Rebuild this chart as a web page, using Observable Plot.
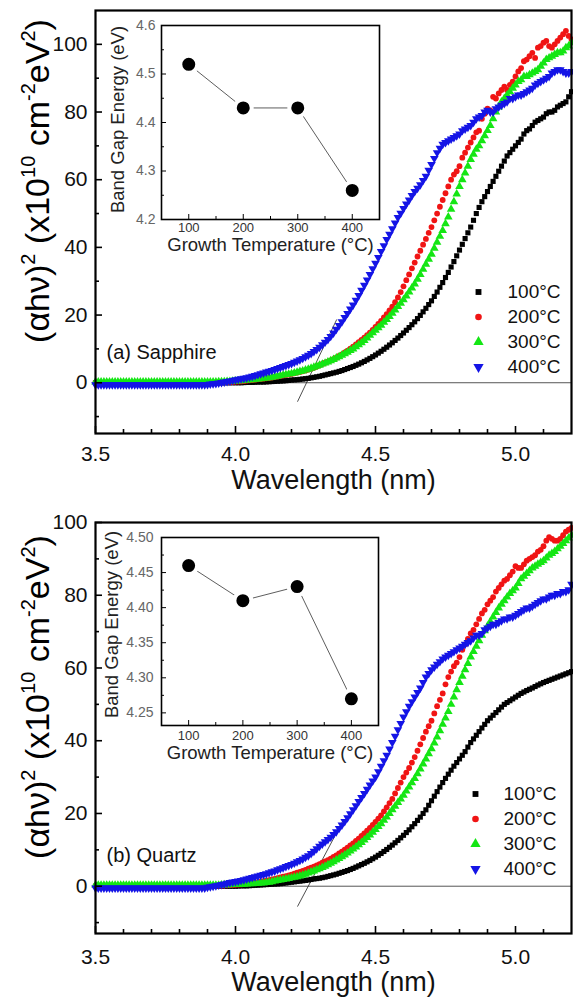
<!DOCTYPE html>
<html><head><meta charset="utf-8">
<script src="https://cdn.jsdelivr.net/npm/d3@7"></script>
<script src="https://cdn.jsdelivr.net/npm/@observablehq/plot@0.6"></script>
<style>
body{margin:0;background:#fff;}
.panel{position:relative;width:573px;overflow:hidden;}
.panel > svg{position:absolute;left:0;top:0;overflow:visible;}
</style></head><body>
<div id="pa" class="panel" style="height:500px"></div>
<div id="pb" class="panel" style="height:498px"></div>
<script>
// ---------- data ----------
// wavelength grid of the measured spectra (3.50 ... 5.20, step 0.01)
const wavelength = d3.range(171).map(i => +(3.5 + 0.01 * i).toFixed(2));
const temps = ["100°C", "200°C", "300°C", "400°C"];

const sapphire100 = [
0,0,0,0,0,0,0,0,0,0,
0,0,0,0,0,0,0,0,0,0,
0,0,0,0,0,0,0,0,0,0,
0,0,0,0,0,0,0,0,0,0,
0,0,0,0,0,0,0,0,0,0,
0.0,0.0,0.0,0.05,0.1,0.1,0.1,0.15,0.2,0.2,
0.2,0.25,0.3,0.35,0.4,0.45,0.5,0.55,0.6,0.7,
0.8,0.85,0.9,1.0,1.1,1.2,1.3,1.45,1.6,1.75,
1.9,2.1,2.3,2.5,2.7,2.9,3.1,3.35,3.6,3.9,
4.2,4.5,4.8,5.15,5.5,5.9,6.3,6.75,7.2,7.7,
8.2,8.75,9.3,9.9,10.5,11.15,11.8,12.5,13.2,13.95,
14.7,15.5,16.3,17.15,18.0,18.95,19.9,20.95,22.0,23.1,
24.2,25.5,26.8,28.2,29.6,31.1,32.6,34.2,35.8,37.5,
39.2,40.9,42.6,44.3,46.0,48.0,50.0,51.8,53.5,55.0,
56.5,58.0,59.5,61.0,62.5,64.0,65.5,67.0,68.0,69.0,
70.0,71.0,72.0,73.5,74.5,75.0,76.0,77.0,77.5,78.0,
78.5,79.5,80.0,80.0,80.5,81.5,82.0,82.5,83.0,84.5,
86.0];
const sapphire200 = [
0,0,0,0,0,0,0,0,0,0,
0,0,0,0,0,0,0,0,0,0,
0,0,0,0,0,0,0,0,0,0,
0,0,0,0,0,0,0,0,0,0,
0,0.05,0.1,0.1,0.1,0.15,0.2,0.2,0.2,0.25,
0.3,0.35,0.4,0.5,0.6,0.7,0.8,0.9,1.0,1.1,
1.2,1.3,1.4,1.55,1.7,1.85,2.0,2.15,2.3,2.45,
2.6,2.8,3.0,3.2,3.4,3.65,3.9,4.15,4.4,4.8,
5.2,5.55,5.9,6.25,6.6,7.0,7.4,7.9,8.4,8.95,
9.5,10.1,10.7,11.35,12.0,12.65,13.3,14.05,14.8,15.65,
16.5,17.4,18.3,19.3,20.3,21.4,22.5,23.8,25.2,26.8,
28.5,30.3,32.0,33.8,35.5,37.3,39.0,40.8,42.5,44.3,
46.0,48.0,50.0,52.0,54.0,56.0,58.0,60.0,61.5,62.5,
64.0,66.5,68.0,69.5,71.0,72.5,74.0,74.5,78.0,79.5,
81.0,80.5,84.5,84.0,85.5,86.5,87.5,86.5,88.0,89.0,
90.5,92.0,93.0,95.0,95.5,96.5,97.5,96.0,99.0,99.5,
100.5,101.0,99.5,99.0,100.0,101.0,102.0,103.0,104.0,102.5,
101.5];
const sapphire300 = [
0.2,0.2,0.2,0.2,0.2,0.2,0.2,0.2,0.2,0.2,
0.2,0.2,0.2,0.2,0.2,0.2,0.2,0.2,0.2,0.2,
0.2,0.2,0.2,0.2,0.2,0.2,0.2,0.2,0.2,0.2,
0.2,0.2,0.2,0.2,0.2,0.2,0.2,0.2,0.2,0.2,
0.2,0.2,0.2,0.25,0.3,0.3,0.3,0.35,0.4,0.45,
0.5,0.55,0.6,0.7,0.8,0.85,0.9,1.0,1.1,1.2,
1.3,1.4,1.5,1.65,1.8,1.95,2.1,2.25,2.4,2.55,
2.7,2.9,3.1,3.3,3.5,3.75,4.0,4.3,4.6,4.9,
5.2,5.5,5.8,6.15,6.5,6.9,7.3,7.7,8.1,8.55,
9.0,9.5,10.0,10.6,11.2,11.85,12.5,13.25,14.0,14.75,
15.5,16.25,17.0,17.85,18.7,19.6,20.5,21.5,22.5,23.5,
24.5,25.65,26.8,28.0,29.2,30.6,32.0,33.5,35.0,36.5,
38.0,39.75,41.5,43.25,45.0,47.0,49.0,51.25,53.5,55.75,
58.0,60.0,62.0,64.0,66.0,67.5,69.0,70.0,71.5,73.0,
74.5,76.0,78.0,80.0,81.5,83.0,84.0,85.0,86.0,87.0,
88.0,89.0,89.5,90.5,90.5,91.0,91.5,92.0,92.5,93.5,
94.5,95.5,96.0,96.5,97.0,97.5,97.5,98.0,99.0,99.5,
100.5];
const sapphire400 = [
-0.6,-0.6,-0.6,-0.6,-0.6,-0.6,-0.6,-0.6,-0.6,-0.6,
-0.6,-0.6,-0.6,-0.6,-0.6,-0.6,-0.6,-0.6,-0.6,-0.6,
-0.6,-0.6,-0.6,-0.6,-0.6,-0.6,-0.6,-0.6,-0.6,-0.6,
-0.6,-0.6,-0.6,-0.6,-0.6,-0.6,-0.6,-0.6,-0.6,-0.6,
-0.5,-0.4,-0.3,-0.2,-0.1,0.05,0.2,0.35,0.5,0.7,
0.9,1.05,1.2,1.35,1.5,1.7,1.9,2.15,2.4,2.65,
2.9,3.15,3.4,3.65,3.9,4.2,4.5,4.8,5.1,5.4,
5.7,6.05,6.4,6.8,7.2,7.65,8.1,8.65,9.2,9.8,
10.5,11.2,12.0,12.8,13.7,14.7,15.8,16.9,18.0,19.3,
20.5,21.8,23.0,24.4,25.8,27.3,28.8,30.4,32.0,33.7,
35.3,37.0,38.8,40.5,42.3,43.9,45.5,47.2,48.8,50.1,
51.5,52.8,54.0,55.3,56.5,57.5,58.5,59.8,61.0,62.8,
64.5,66.3,68.0,69.3,70.5,71.0,71.5,72.0,72.5,73.0,
73.5,74.5,75.0,75.5,76.0,77.0,78.0,78.5,79.0,80.0,
80.5,80.0,80.0,81.0,81.5,82.0,82.5,83.0,84.0,84.0,
84.5,85.0,85.0,85.5,86.0,86.5,87.0,88.0,88.5,89.0,
89.5,90.0,90.5,91.5,92.0,92.5,92.5,92.0,91.5,91.5,
92.0];

const quartz100 = [
0,0,0,0,0,0,0,0,0,0,
0,0,0,0,0,0,0,0,0,0,
0,0,0,0,0,0,0,0,0,0,
0,0,0,0,0,0,0,0,0,0,
0,0,0,0,0,0,0,0,0,0,
0,0.05,0.1,0.1,0.1,0.15,0.2,0.25,0.3,0.35,
0.4,0.45,0.5,0.55,0.6,0.65,0.7,0.8,0.9,1.0,
1.1,1.2,1.3,1.4,1.5,1.6,1.7,1.85,2.0,2.1,
2.2,2.35,2.5,2.7,2.9,3.1,3.3,3.55,3.8,4.05,
4.3,4.6,4.9,5.25,5.6,5.95,6.3,6.7,7.1,7.55,
8.0,8.5,9.0,9.55,10.1,10.7,11.3,11.95,12.6,13.3,
14.0,14.75,15.5,16.35,17.2,18.1,19.0,20.0,21.0,22.25,
23.5,24.75,26.0,27.25,28.5,29.65,30.8,31.9,33.0,34.0,
35.0,36.0,37.0,38.25,39.5,40.5,41.5,42.5,43.5,44.5,
45.5,46.25,47.0,47.75,48.5,49.25,50.0,50.5,51.0,51.5,
52.0,52.5,53.0,53.4,53.8,54.15,54.5,54.9,55.3,55.65,
56.0,56.3,56.6,56.9,57.2,57.5,57.8,58.1,58.4,58.7,
59.0];
const quartz200 = [
0,0,0,0,0,0,0,0,0,0,
0,0,0,0,0,0,0,0,0,0,
0,0,0,0,0,0,0,0,0,0,
0,0,0,0,0,0,0,0,0,0,
0,0.05,0.1,0.1,0.1,0.15,0.2,0.25,0.3,0.35,
0.4,0.45,0.5,0.6,0.7,0.8,0.9,1.0,1.1,1.25,
1.4,1.55,1.7,1.85,2.0,2.2,2.4,2.6,2.8,3.0,
3.2,3.45,3.7,3.95,4.2,4.5,4.8,5.1,5.4,5.75,
6.1,6.45,6.8,7.2,7.6,8.05,8.5,9.0,9.5,10.05,
10.6,11.2,11.8,12.45,13.1,13.8,14.5,15.25,16.0,16.85,
17.7,18.6,19.5,20.6,21.7,22.85,24.0,25.5,27.0,28.5,
30.0,31.25,32.5,34.0,35.5,37.25,39.0,40.75,42.5,44.0,
45.5,47.5,49.5,51.25,53.0,55.5,57.5,59.0,60.5,61.5,
63.0,65.0,66.5,68.0,69.5,70.5,72.0,73.5,75.0,76.0,
77.5,78.5,79.5,81.0,82.0,83.0,84.0,84.5,85.5,86.5,
88.0,87.5,87.5,88.5,89.5,90.0,90.5,91.0,92.0,92.5,
93.5,95.0,96.0,95.5,95.0,95.0,95.5,96.5,97.5,98.0,
98.5];
const quartz300 = [
0.3,0.3,0.3,0.3,0.3,0.3,0.3,0.3,0.3,0.3,
0.3,0.3,0.3,0.3,0.3,0.3,0.3,0.3,0.3,0.3,
0.3,0.3,0.3,0.3,0.3,0.3,0.3,0.3,0.3,0.3,
0.3,0.3,0.3,0.3,0.3,0.3,0.3,0.3,0.3,0.3,
0.3,0.3,0.3,0.3,0.3,0.35,0.4,0.4,0.4,0.45,
0.5,0.5,0.5,0.55,0.6,0.65,0.7,0.75,0.8,0.85,
0.9,1.0,1.1,1.25,1.4,1.55,1.7,1.85,2.0,2.15,
2.3,2.45,2.6,2.8,3.0,3.3,3.6,3.9,4.2,4.5,
4.8,5.15,5.5,5.9,6.3,6.75,7.2,7.65,8.1,8.6,
9.1,9.65,10.2,10.8,11.4,12.05,12.7,13.4,14.1,14.85,
15.6,16.4,17.2,18.1,19.0,20.0,21.0,22.0,23.0,24.0,
25.0,26.15,27.3,28.45,29.6,30.9,32.2,33.6,35.0,36.4,
37.8,39.4,41.0,42.75,44.5,46.25,48.0,50.0,52.0,54.0,
56.0,57.75,59.5,61.25,63.0,64.5,66.0,67.5,69.0,70.25,
71.5,72.75,74.0,75.25,76.5,77.5,78.5,79.5,80.5,81.25,
82.0,83.25,84.5,85.25,86.0,86.75,87.5,88.0,88.5,89.0,
89.5,90.25,91.0,91.5,92.0,92.75,93.5,94.25,95.0,95.75,
96.5];
const quartz400 = [
-0.5,-0.5,-0.5,-0.5,-0.5,-0.5,-0.5,-0.5,-0.5,-0.5,
-0.5,-0.5,-0.5,-0.5,-0.5,-0.5,-0.5,-0.5,-0.5,-0.5,
-0.5,-0.5,-0.5,-0.5,-0.5,-0.5,-0.5,-0.5,-0.5,-0.5,
-0.5,-0.5,-0.5,-0.5,-0.5,-0.5,-0.5,-0.5,-0.5,-0.5,
-0.3,-0.15,0.0,0.15,0.3,0.45,0.6,0.8,1.0,1.15,
1.3,1.45,1.6,1.8,2.0,2.2,2.4,2.6,2.8,3.0,
3.2,3.45,3.7,3.95,4.2,4.5,4.8,5.1,5.4,5.7,
6.0,6.35,6.7,7.1,7.5,7.95,8.4,9.0,9.6,10.3,
11.0,11.6,12.2,12.85,13.5,14.25,15.0,15.9,16.8,17.8,
18.8,19.9,21.0,22.15,23.3,24.4,25.5,26.65,27.8,28.9,
30.0,31.5,33.0,34.5,36.0,37.75,39.5,41.25,43.0,44.75,
46.5,48.0,49.5,50.75,52.0,53.25,54.5,56.0,57.5,58.5,
59.5,60.25,61.0,61.75,62.5,63.0,63.5,64.0,64.5,65.0,
65.5,66.0,66.5,67.0,67.5,68.25,69.0,69.0,69.5,70.5,
71.0,71.5,72.0,72.0,72.5,73.0,73.5,73.5,74.0,74.0,
74.5,75.0,75.5,76.0,76.5,76.5,77.0,77.5,78.0,78.5,
79.0,79.0,79.5,80.0,80.0,80.5,80.5,81.0,81.0,81.5,
83.0];

// tangent (linear extrapolation) lines: endpoints
const tangentSapphire = {w: [4.222, 4.361], v: [-5.5, 18.6]};
const tangentQuartz = {w: [4.222, 4.383], v: [-5.5, 17.9]};

// inset: band gap energy vs growth temperature
const growthTemp = [100, 200, 300, 400];
const gapSapphire = [4.52, 4.43, 4.43, 4.26];
const gapQuartz = [4.46, 4.41, 4.43, 4.27];

// ticks
const xMajor = [3.5, 4.0, 4.5, 5.0];
const xMinor = [3.6, 3.7, 3.8, 3.9, 4.1, 4.2, 4.3, 4.4, 4.6, 4.7, 4.8, 4.9, 5.1];
const yMajor = [0, 20, 40, 60, 80, 100];
const yMinor = [-10, 10, 30, 50, 70, 90];
const insetX = [100, 200, 300, 400];
const insetXMinor = [150, 250, 350];
const insetYSapphire = [4.2, 4.3, 4.4, 4.5, 4.6];
const insetYSapphireMinor = [4.25, 4.35, 4.45, 4.55];
const insetYQuartz = [4.25, 4.30, 4.35, 4.40, 4.45, 4.50];
const insetYQuartzMinor = [4.275, 4.325, 4.375, 4.425, 4.475];

// ---------- style ----------
const FONT = '"Liberation Sans", Arial, sans-serif';
const COLORS = ["#000000", "#f01414", "#14e614", "#1414e6"];
const sqrt3 = Math.sqrt(3);
const triangleDown = {
  draw(context, size) {
    const y = -Math.sqrt(size / (sqrt3 * 3));
    context.moveTo(0, -y * 2);
    context.lineTo(-sqrt3 * y, y);
    context.lineTo(sqrt3 * y, y);
    context.closePath();
  }
};
const SYMBOLS = ["square", "circle", "triangle", triangleDown];

function yTitle(svg, x, y) {
  const t = d3.select(svg).append("text")
    .attr("transform", `translate(${x},${y}) rotate(-90)`)
    .attr("y", 11)
    .attr("text-anchor", "middle")
    .attr("font-family", FONT).attr("font-size", 34).attr("fill", "#000")
    .style("white-space", "pre");
  const parts = [["(\u03b1h\u03bd)", 0], ["2", 1], [" (x10", 0], ["10", 1], [" cm", 0], ["-2", 1], ["eV", 0], ["2", 1], [")", 0]];
  let prev = 0;
  for (const [s, sup] of parts) {
    const ts = t.append("tspan").text(s);
    if (sup) ts.attr("font-size", 20).attr("dy", prev ? 0 : -14);
    else ts.attr("dy", prev ? 14 : 0);
    prev = sup;
  }
}

function panel(el, cfg) {
  const W = 573, H = cfg.height;
  const plotW = W - 95 - 2, plotH = H - cfg.mt - cfg.mb;
  const seriesData = cfg.series.map(vals => wavelength.map((w, i) => ({w, v: vals[i]})).filter(d => d.v !== undefined));
  const tangent = cfg.tangent.w.map((w, i) => ({w, v: cfg.tangent.v[i]}));
  const main = Plot.plot({
    width: W, height: H,
    marginLeft: 95, marginRight: 2, marginTop: cfg.mt, marginBottom: cfg.mb,
    x: {domain: [3.5, 5.2]},
    y: {domain: cfg.ydom},
    style: {fontFamily: FONT, background: "transparent", color: "#111"},
    marks: [
      Plot.ruleY([0], {stroke: "#555", strokeWidth: 1}),
      Plot.line(tangent, {x: "w", y: "v", stroke: "#222", strokeWidth: 0.8}),
      ...seriesData.map((d, k) => Plot.dot(d, {x: "w", y: "v", symbol: SYMBOLS[k], fill: COLORS[k], stroke: "none", r: k >= 2 ? 3.2 : 2.9})),
      Plot.tickX(xMajor, {insetTop: plotH - 7, strokeWidth: 1.6, stroke: "#000"}),
      Plot.tickX(xMinor, {insetTop: plotH - 4, strokeWidth: 1.6, stroke: "#000"}),
      Plot.tickY(yMajor, {insetRight: plotW - 7, strokeWidth: 1.6, stroke: "#000"}),
      Plot.tickY(yMinor, {insetRight: plotW - 4, strokeWidth: 1.6, stroke: "#000"}),
      Plot.axisX(xMajor, {tickSize: 0, tickPadding: cfg.xpad, tickFormat: d3.format(".1f"), fontSize: 21, label: null}),
      Plot.axisY(yMajor, {tickSize: 0, tickPadding: 8, fontSize: 21, label: null}),
      Plot.frame({stroke: "#000", strokeWidth: 2.2}),
      Plot.text(["Wavelength (nm)"], {frameAnchor: "bottom", dy: cfg.titleDy, fontSize: 27, fill: "#111"}),
      Plot.text([cfg.name], {frameAnchor: "bottom-left", dx: 11, dy: cfg.nameDy, textAnchor: "start", fontSize: 20, fill: "#111"})
    ]
  });
  yTitle(main, 38, cfg.yTitleY);
  el.appendChild(main);

  // inset
  const ins = cfg.inset;
  const insData = growthTemp.map((t, i) => ({t, e: ins.gap[i]}));
  const iW = 285, iH = 250;
  const iPlotW = iW - 61 - ins.mr, iPlotH = iH - 15 - ins.mb;
  const inset = Plot.plot({
    width: iW, height: iH,
    marginLeft: 61, marginRight: ins.mr, marginTop: 15, marginBottom: ins.mb,
    x: {domain: [50, 450]},
    y: {domain: ins.ydom},
    style: {fontFamily: FONT, background: "transparent", color: "#222"},
    marks: [
      Plot.frame({fill: "white", stroke: "none"}),
      Plot.tickX(insetX, {insetTop: iPlotH - 5, strokeWidth: 1, stroke: "#000"}),
      Plot.tickX(insetXMinor, {insetTop: iPlotH - 3, strokeWidth: 1, stroke: "#000"}),
      Plot.tickY(ins.yt, {insetRight: iPlotW - 5, strokeWidth: 1, stroke: "#000"}),
      Plot.tickY(ins.ytm, {insetRight: iPlotW - 3, strokeWidth: 1, stroke: "#000"}),
      Plot.line(insData, {x: "t", y: "e", stroke: "#333", strokeWidth: 0.8}),
      Plot.dot(insData, {x: "t", y: "e", r: 8.5, fill: "#000", stroke: "white", strokeWidth: 4}),
      Plot.axisY(ins.yt, {tickSize: 0, tickPadding: ins.ypad, fontSize: 14, fill: "#666", tickFormat: d3.format(ins.fmt), label: null}),
      Plot.axisX(insetX, {tickSize: 0, tickPadding: ins.xpad, fontSize: 13, fill: "#333", label: null}),
      Plot.frame({stroke: "#000", strokeWidth: 1.6}),
      Plot.text(["Growth Temperature (°C)"], {frameAnchor: "bottom", dy: ins.titleDy, fontSize: 18.5, fill: "#222"}),
      Plot.text(["Band Gap Energy (eV)"], {frameAnchor: "left", textAnchor: "middle", dx: ins.ytx - 61, dy: ins.yty, rotate: -90, fontSize: 18.5, fill: "#222"})
    ]
  });
  inset.style.left = "100px";
  inset.style.top = ins.top + "px";
  el.appendChild(inset);

  // legend
  const lg = cfg.legend;
  const legend = Plot.plot({
    width: 100, height: lg.h, margin: 0,
    x: {axis: null, domain: [0, 1]},
    y: {type: "band", domain: temps, padding: 0, axis: null},
    style: {fontFamily: FONT, background: "transparent", color: "#111"},
    marks: [
      ...temps.map((t, k) => Plot.dot([t], {y: d => d, frameAnchor: "left", dx: 10, symbol: SYMBOLS[k], fill: COLORS[k], stroke: "none", r: k >= 2 ? 3.8 : 3.3})),
      Plot.text(temps, {y: d => d, frameAnchor: "left", dx: lg.tx, textAnchor: "start", fontSize: 19, fill: "#111"})
    ]
  });
  legend.style.left = lg.left + "px";
  legend.style.top = lg.top + "px";
  el.appendChild(legend);
}

panel(document.getElementById("pa"), {
  height: 500, mt: 10, mb: 67, ydom: [-15, 110], xpad: 13, titleDy: 55, nameDy: -75,
  yTitleY: 181, name: "(a) Sapphire",
  series: [sapphire100, sapphire200, sapphire300, sapphire400],
  tangent: tangentSapphire,
  inset: {top: 10, mr: 6, mb: 41, ydom: [4.2, 4.6], gap: gapSapphire, yt: insetYSapphire, ytm: insetYSapphireMinor, fmt: ".1f",
          ypad: 6, xpad: 3, titleDy: 31, ytx: 18, yty: -3},
  legend: {left: 468, top: 277, h: 103, tx: 39}
});
panel(document.getElementById("pb"), {
  height: 498, mt: 22, mb: 65, ydom: [-13, 100], xpad: 16, titleDy: 57, nameDy: -72,
  yTitleY: 197, name: "(b) Quartz",
  series: [quartz100, quartz200, quartz300, quartz400],
  tangent: tangentQuartz,
  inset: {top: 22, mr: 7, mb: 47, ydom: [4.232, 4.5], gap: gapQuartz, yt: insetYQuartz, ytm: insetYQuartzMinor, fmt: ".2f",
          ypad: 8, xpad: 5, titleDy: 33, ytx: 12, yty: -7},
  legend: {left: 465, top: 280, h: 101, tx: 38}
});
</script>
</body></html>
